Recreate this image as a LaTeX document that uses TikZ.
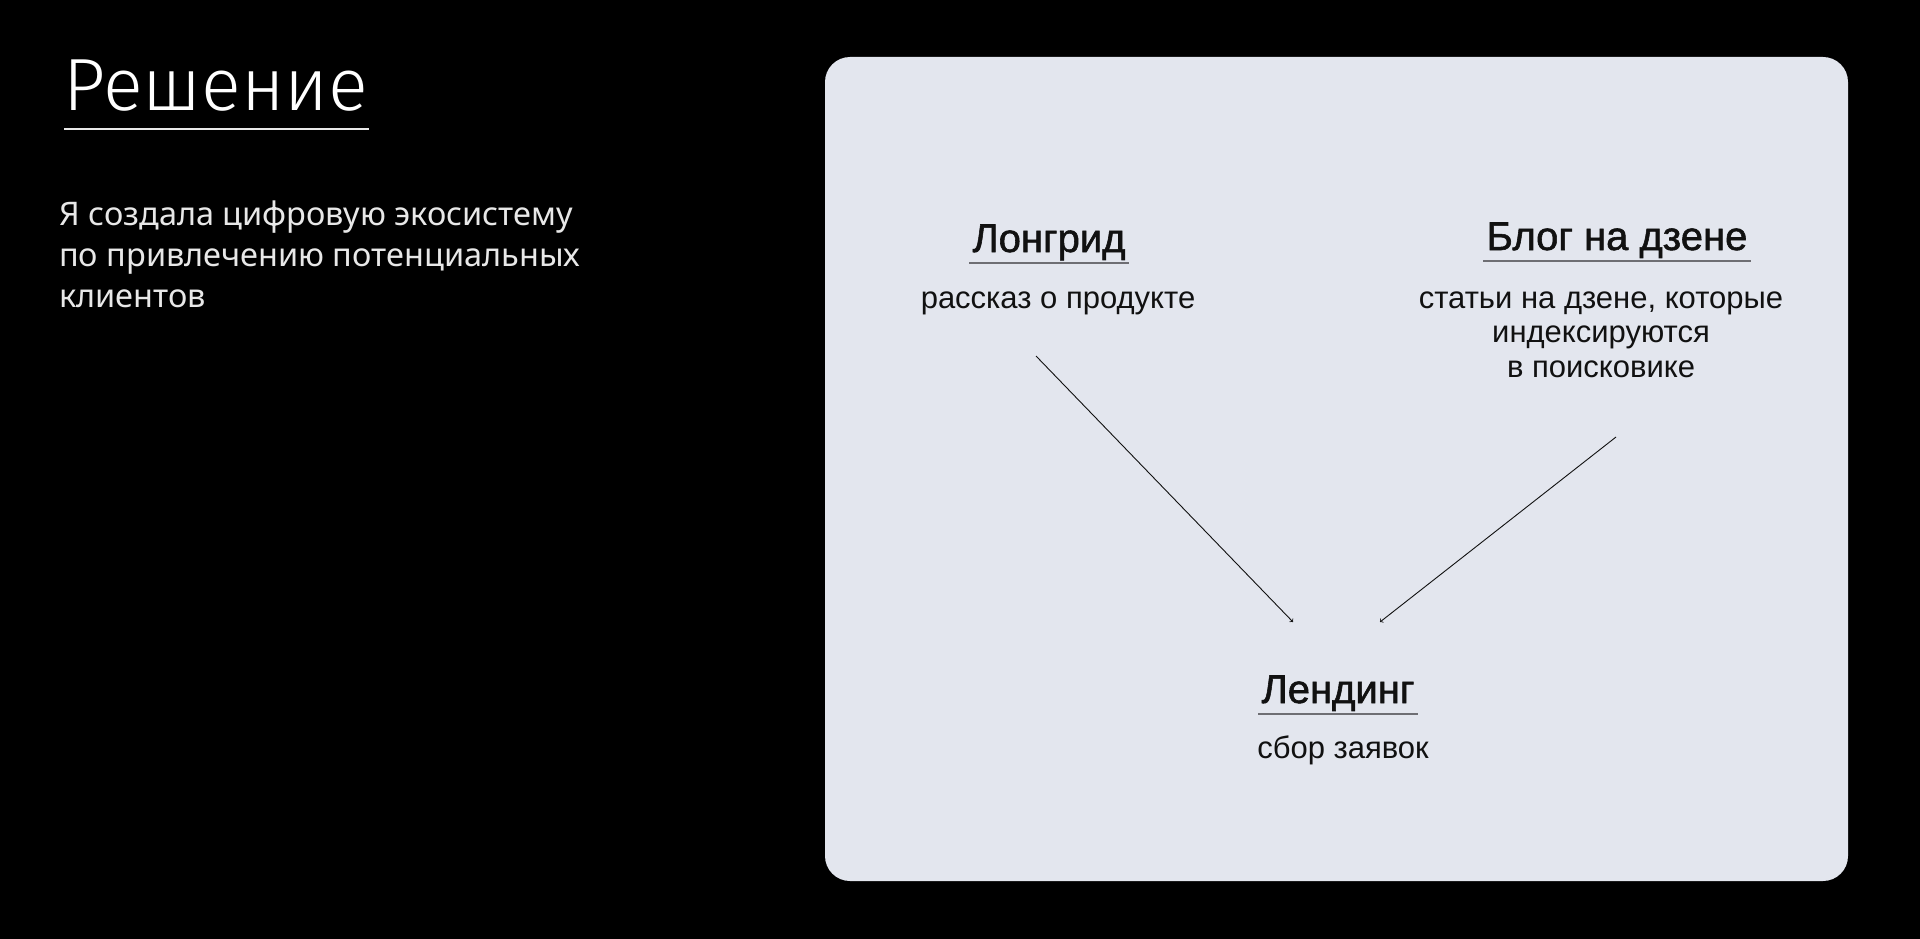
\documentclass[tikz,border=0pt]{standalone}
\usepackage{fontspec}
\setmainfont{Liberation Sans}
\newfontfamily\titlefont{Fira Sans}[UprightFont=* Light]
\newfontfamily\bodyfont{Noto Sans}
\newfontfamily\headfont{Liberation Sans}[FakeBold=1.4]
\definecolor{panel}{HTML}{E3E6EE}
\definecolor{ink}{HTML}{111111}
\definecolor{rule}{HTML}{6E6E73}
\definecolor{lighttext}{HTML}{E8E8E8}
\tikzset{
	head/.style={anchor=base,inner xsep=3pt,inner ysep=0pt,text=ink,font=\headfont\fontsize{40}{46}\selectfont},
	sub/.style={anchor=base,inner sep=0pt,text=ink,align=center,font=\fontsize{31}{34.5}\selectfont},
	uline/.style={rule,line width=1.6pt},
	link/.style={->,ink,line width=0.9pt}
}
\begin{document}
				\begin{tikzpicture}[x=1pt,y=-1pt]
					\fill[black] (0,0) rectangle (1920,939);
					\useasboundingbox (0,0) rectangle (1920,939);
					\node[anchor=base west,inner sep=0pt,text=white,font=\titlefont\fontsize{74}{84}\selectfont] (title) at (63,111) {Решение};
					\draw[lighttext,line width=2pt] (64,129) -- (369,129);
					\node[anchor=base west,inner sep=0pt,text=lighttext,align=left,font=\bodyfont\fontsize{32.5}{41}\selectfont] (intro) at (59,307) {Я создала цифровую экосистему\\по привлечению потенциальных\\клиентов};
					\fill[panel,rounded corners=25pt] (825,57) rectangle (1848,881);
					\node[head] (lg) at (1049,252) {Лонгрид};
					\node[sub] (lgsub) at (1058,308) {рассказ о продукте};
					\node[head] (bl) at (1617,250) {Блог на дзене};
					\node[sub] (blsub) at (1601,377) {статьи на дзене, которые\\индексируются\\в поисковике};
					\node[head] (ld) at (1338,703) {Лендинг};
					\node[sub] (ldsub) at (1343,758) {сбор заявок};
					\foreach \n in {lg,bl,ld}
					\draw[uline] ([yshift=-11pt]\n.base west) -- ([yshift=-11pt]\n.base east);
					\coordinate (lgout) at (1036,356);
					\coordinate (blout) at (1616,437);
					\coordinate (ldinl) at (1293,622);
					\coordinate (ldinr) at (1380,622);
					\draw[link] (lgout) -- (ldinl);
					\draw[link] (blout) -- (ldinr);
				\end{tikzpicture}
\end{document}
